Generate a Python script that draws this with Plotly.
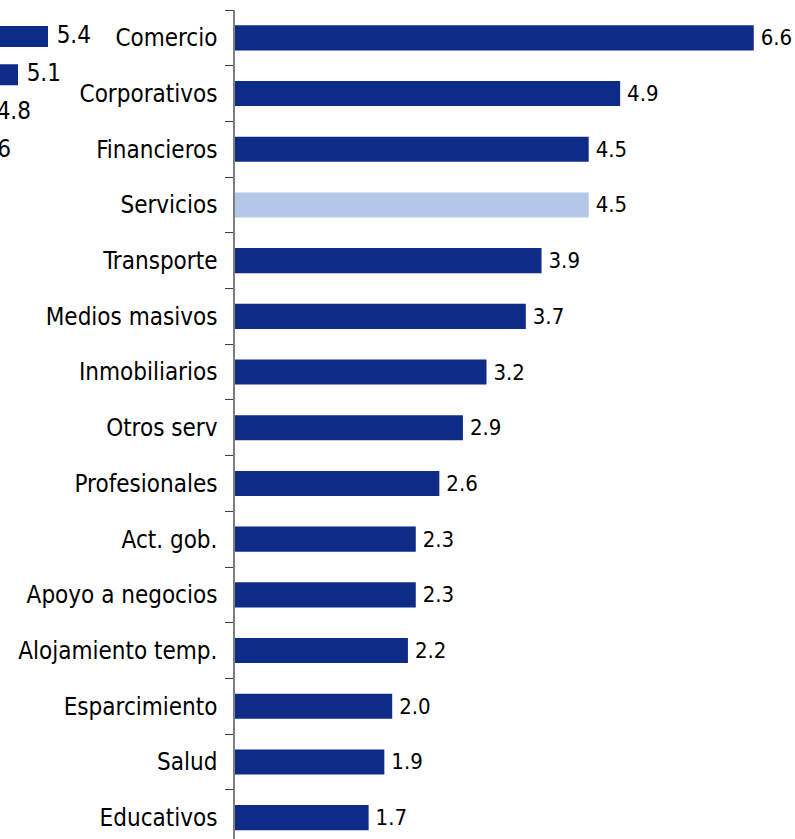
import plotly.graph_objects as go

# Main panel: sectors ordered top to bottom
sectores = [
    "Comercio", "Corporativos", "Financieros", "Servicios", "Transporte",
    "Medios masivos", "Inmobiliarios", "Otros serv", "Profesionales",
    "Act. gob.", "Apoyo a negocios", "Alojamiento temp.", "Esparcimiento",
    "Salud", "Educativos",
]
valores = [6.6, 4.9, 4.5, 4.5, 3.9, 3.7, 3.2, 2.9, 2.6, 2.3, 2.3, 2.2, 2.0, 1.9, 1.7]
destacado = "Servicios"

# Neighbouring panel, only its right-hand end is in view
vecino_pos = [0, 1, 2, 3]
vecino_val = [5.4, 5.1, 4.8, 4.6]

AZUL = "#0F2B88"
AZUL_CLARO = "#B4C7E7"
FONT = "DejaVu Sans Condensed, Liberation Sans Narrow, Arial Narrow, sans-serif"

W, H = 795, 839
TOP = 10
AXIS_X = 235  # pixel position of the main value axis origin
PX_PER_UNIT = 78.6

colores = [AZUL_CLARO if s == destacado else AZUL for s in sectores]

fig = go.Figure()

fig.add_trace(go.Bar(
    y=sectores, x=valores, orientation="h",
    marker=dict(color=colores, line=dict(width=0)),
    width=0.45,
    text=valores, texttemplate="\u2009%{x:.1f}", textposition="outside",
    constraintext="none",
    textfont=dict(family=FONT, size=22, color="#000000"),
    cliponaxis=False, hoverinfo="skip",
    xaxis="x", yaxis="y",
))

# neighbouring panel: clipped to its own subplot, whose left edge is the page edge
fig.add_trace(go.Bar(
    y=vecino_pos, x=vecino_val, orientation="h",
    marker=dict(color=AZUL, line=dict(width=0)),
    width=0.55,
    hoverinfo="skip",
    xaxis="x2", yaxis="y2",
))
fig.add_trace(go.Scatter(
    y=vecino_pos, x=vecino_val, mode="text",
    text=vecino_val, texttemplate="\u2009\u2009%{x:.1f}",
    textposition="middle right",
    textfont=dict(family=FONT, size=24, color="#000000"),
    hoverinfo="skip",
    xaxis="x2", yaxis="y2",
))

plot_h = H - TOP
n_vis = plot_h / 55.7
x_dom0 = AXIS_X / W
x_max = (W - AXIS_X) / PX_PER_UNIT

# neighbour panel geometry
v_unit = 38.3
v_top = (36.5 - TOP) / v_unit
v_x0 = 4.92
v_dom = 0.13
v_x1 = v_x0 + v_dom * W / 100.0

fig.update_layout(
    width=W, height=H,
    margin=dict(l=0, r=0, t=TOP, b=0),
    paper_bgcolor="white", plot_bgcolor="rgba(0,0,0,0)",
    showlegend=False,
    bargap=0.55,
    font=dict(family=FONT, size=24, color="#000000"),
    xaxis=dict(
        domain=[x_dom0, 1], range=[0, x_max],
        visible=False, fixedrange=True,
    ),
    yaxis=dict(
        type="category", categoryorder="array", categoryarray=sectores,
        range=[-0.5 + n_vis, -0.5],
        showline=True, linecolor="#7F7F7F", linewidth=1.5,
        ticks="outside", tickson="boundaries", ticklen=8, tickwidth=1.2,
        tickcolor="#404040",
        ticklabelstandoff=11,
        tickfont=dict(family=FONT, size=24, color="#000000"),
        showgrid=False, zeroline=False, automargin=False, fixedrange=True,
    ),
    xaxis2=dict(
        domain=[0, v_dom], range=[v_x0, v_x1], anchor="y2",
        visible=False, fixedrange=True,
    ),
    yaxis2=dict(
        domain=[0, 1], range=[plot_h / v_unit - v_top, -v_top], anchor="x2",
        visible=False, fixedrange=True,
    ),
)

fig.write_html("out.html")
